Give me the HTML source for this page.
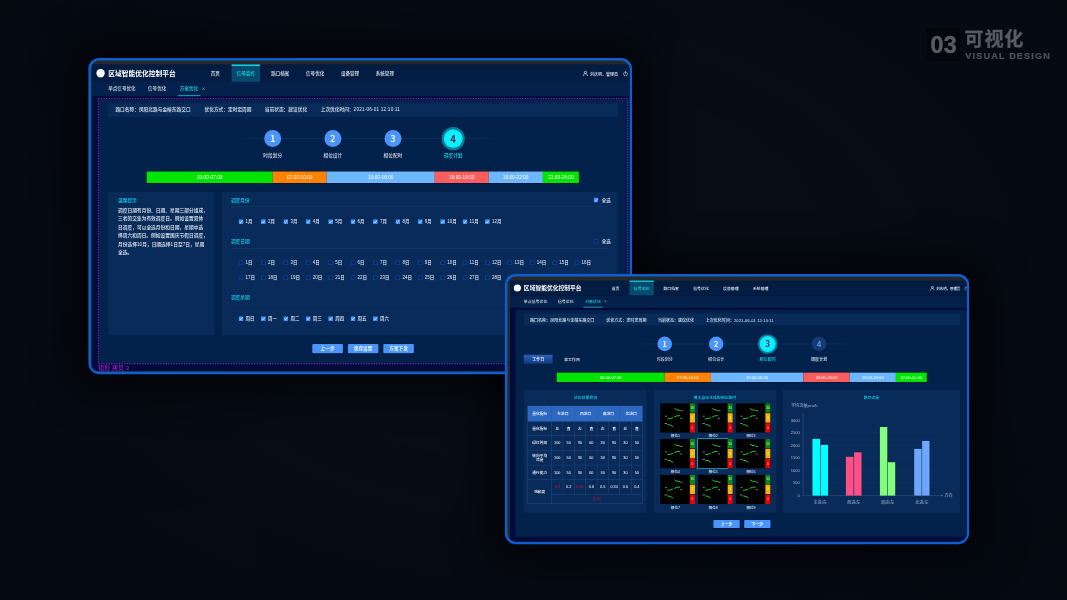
<!DOCTYPE html>
<html lang="zh-CN"><head><meta charset="utf-8"><title>区域智能优化控制平台 - 可视化</title>
<style>
html,body{margin:0;padding:0;}
body{width:1067px;height:600px;overflow:hidden;position:relative;background:#070c16;font-family:"Liberation Sans","Noto Sans CJK SC",sans-serif;}
.root{position:absolute;left:0;top:0;width:10670px;height:6000px;transform:scale(0.1);transform-origin:0 0;}
.bg{position:absolute;left:0;top:0;width:10670px;height:6000px;background:radial-gradient(ellipse 70% 80% at 50% 45%,rgba(8,14,26,.0) 40%,rgba(3,6,10,.4) 100%);}
.frame{position:absolute;box-sizing:border-box;border:25px solid #0a60d2;border-radius:110px;background:#282828;overflow:hidden;}
.f1,.s1{left:884px;top:579px;width:5436px;height:3163px;}
.f2,.s2{left:5049px;top:2739px;width:4642px;height:2703px;}
.sh{position:absolute;border-radius:110px;box-shadow:0 0 380px 160px rgba(0,0,0,.68);}
.c{position:absolute;width:5400px;height:3060px;background:#000a3b;transform-origin:0 0;border-top-left-radius:60px;}
.f1 .c{left:11px;top:46px;}
.f2 .c{left:26px;top:46px;width:4622.4px;height:2619.4px;}
.b{position:absolute;display:block;}
.t{position:absolute;white-space:nowrap;display:block;font-weight:500;}
.badge{position:absolute;left:9266px;top:280px;width:332px;height:330px;background:#03060a;}
</style></head>
<body>
<div class="root">
<div class="bg"></div>
<div class="badge"></div>
<span class="t" style="left:9304px;top:304px;line-height:280px;font-size:234px;font-weight:700;color:#585b63;letter-spacing:3px;-webkit-text-stroke:5px #585b63;">03</span>
<span class="t" style="left:9646px;top:253px;line-height:280px;font-size:192px;font-weight:700;color:#585b63;letter-spacing:6px;-webkit-text-stroke:3px #585b63;">可视化</span>
<span class="t" style="left:9653px;top:478px;line-height:160px;font-size:92px;font-weight:700;color:#4d5058;letter-spacing:11px;-webkit-text-stroke:2.5px #4d5058;">VISUAL DESIGN</span>
<div class="sh s1"></div><div class="sh s2"></div>
<div class="frame f1"><div class="c">
<div class="b" style="left:0px;top:-6px;width:5400px;height:176px;background:#021c42;"></div>
<div class="b" style="left:0px;top:170px;width:5400px;height:142px;background:#03214a;"></div>
<div class="b" style="left:44px;top:40px;width:84px;height:84px;border-radius:50%;background:radial-gradient(circle at 40% 45%,#fff 62%,#f3c98a 78%,#e09a3a 100%);"></div>
<span class="t " style="top:35.5px;line-height:100px;font-size:67.5px;color:#fff;left:162px;font-weight:700;">区域智能优化控制平台</span>
<div class="b" style="left:1396px;top:-5px;width:284px;height:173px;background:#064a6c;border-top:15px solid #0fd6e6;box-sizing:border-box;"></div>
<span class="t " style="top:30px;line-height:100px;font-size:45.5px;color:#dfe6f2;left:1188px;">首页</span>
<span class="t " style="top:30px;line-height:100px;font-size:45.5px;color:#19d6e6;left:1447px;">信号监控</span>
<span class="t " style="top:30px;line-height:100px;font-size:45.5px;color:#dfe6f2;left:1792px;">路口档案</span>
<span class="t " style="top:30px;line-height:100px;font-size:45.5px;color:#dfe6f2;left:2140.5px;">信号优化</span>
<span class="t " style="top:30px;line-height:100px;font-size:45.5px;color:#dfe6f2;left:2489px;">设备管理</span>
<span class="t " style="top:30px;line-height:100px;font-size:45.5px;color:#dfe6f2;left:2837.5px;">系统管理</span>
<svg class="b" style="left:4906px;top:56px;width:56px;height:58px" viewBox="0 0 56 58"><circle cx="28" cy="17" r="12" fill="none" stroke="#e6ecf6" stroke-width="7"/><path d="M6 56 C6 38 16 31 28 31 C40 31 50 38 50 56" fill="none" stroke="#e6ecf6" stroke-width="7"/></svg>
<span class="t " style="top:40.5px;line-height:100px;font-size:40px;color:#e6ecf6;left:4980px;">刘庆明，管理员</span>
<svg class="b" style="left:5307px;top:57px;width:56px;height:56px" viewBox="0 0 56 56"><path d="M17 15 A20 20 0 1 0 39 15" fill="none" stroke="#e6ecf6" stroke-width="6" stroke-linecap="round"/><path d="M28 6 V28" stroke="#e6ecf6" stroke-width="6" stroke-linecap="round"/></svg>
<span class="t " style="top:189px;line-height:100px;font-size:45.8px;color:#d5deec;left:162px;">单点信号优化</span>
<span class="t " style="top:189px;line-height:100px;font-size:45.8px;color:#d5deec;left:560px;">信号优化</span>
<span class="t " style="top:189px;line-height:100px;font-size:45.8px;color:#19d6e6;left:878px;">方案优化</span>
<svg class="b" style="left:1099px;top:221px;width:32px;height:32px" viewBox="0 0 30 30"><path d="M3 3 L27 27 M27 3 L3 27" stroke="#b4c0d6" stroke-width="4.5"/></svg>
<div class="b" style="left:858px;top:300px;width:225px;height:12px;background:#0c94b4;"></div>
<div class="b" style="left:63px;top:343px;width:5302px;height:2643px;background:#03224b;"></div>
<div class="b" style="left:162px;top:382px;width:5098px;height:135px;background:#082b59;"></div>
<span class="t fw" style="top:395.5px;line-height:100px;font-size:47px;color:#dfe6f2;left:234px;">路口名称：凤阳北路与金榕东路交口</span>
<span class="t fw" style="top:395.5px;line-height:100px;font-size:47px;color:#dfe6f2;left:1125px;">优化方式：定时定周期</span>
<span class="t fw" style="top:395.5px;line-height:100px;font-size:47px;color:#dfe6f2;left:1728px;">当前状态：建议优化</span>
<span class="t fw" style="top:395.5px;line-height:100px;font-size:47px;color:#dfe6f2;left:2287px;">上次优化时间：<span style="letter-spacing:1.7px">2021-06-01 12:10:11</span></span>
<div class="b" style="left:1400px;top:733px;width:2700px;height:5px;background:linear-gradient(90deg,rgba(60,100,160,0),rgba(60,100,160,.3) 15%,rgba(60,100,160,.3) 85%,rgba(60,100,160,0));"></div>
<div class="b" style="left:1722px;top:650px;width:170px;height:170px;border-radius:50%;background:#4a94fb;"></div>
<span class="t " style="top:673px;line-height:120px;font-size:96px;color:#fff;left:807px;width:2000px;text-align:center;font-family:'Noto Sans CJK SC',sans-serif;font-weight:500;">1</span>
<span class="t " style="top:857px;line-height:100px;font-size:47px;color:#c9d4e6;left:807px;width:2000px;text-align:center;">时段划分</span>
<div class="b" style="left:2323.5px;top:650px;width:170px;height:170px;border-radius:50%;background:#4a94fb;"></div>
<span class="t " style="top:673px;line-height:120px;font-size:96px;color:#fff;left:1408.5px;width:2000px;text-align:center;font-family:'Noto Sans CJK SC',sans-serif;font-weight:500;">2</span>
<span class="t " style="top:857px;line-height:100px;font-size:47px;color:#c9d4e6;left:1408.5px;width:2000px;text-align:center;">相位设计</span>
<div class="b" style="left:2925px;top:650px;width:170px;height:170px;border-radius:50%;background:#4a94fb;"></div>
<span class="t " style="top:673px;line-height:120px;font-size:96px;color:#fff;left:2010px;width:2000px;text-align:center;font-family:'Noto Sans CJK SC',sans-serif;font-weight:500;">3</span>
<span class="t " style="top:857px;line-height:100px;font-size:47px;color:#c9d4e6;left:2010px;width:2000px;text-align:center;">相位配时</span>
<div class="b" style="left:3495.5px;top:621px;width:232px;height:232px;border-radius:50%;background:#0a7c9c;"></div>
<div class="b" style="left:3517.5px;top:643px;width:188px;height:188px;border-radius:50%;background:radial-gradient(circle,#22f6ff 0%,#08ecfa 60%,#04d4ea 100%);"></div>
<span class="t " style="top:675px;line-height:120px;font-size:96px;color:#0a2c5c;left:2611.5px;width:2000px;text-align:center;font-family:'Noto Sans CJK SC',sans-serif;font-weight:500;font-weight:700;">4</span>
<span class="t " style="top:857px;line-height:100px;font-size:47px;color:#19d6e6;left:2611.5px;width:2000px;text-align:center;">调度计划</span>
<div class="b" style="left:541px;top:1060px;width:4332.4px;height:125px;background:#000a3b;"></div>
<div class="b" style="left:546px;top:1065px;width:1261.2px;height:115px;background:#00e400;"></div>
<span class="t " style="top:1072.5px;line-height:100px;font-size:47.6px;color:#fff;left:176.4px;width:2000px;text-align:center;">00:00-07:00</span>
<div class="b" style="left:1806.7px;top:1065px;width:540.8px;height:115px;background:#ff8200;"></div>
<span class="t " style="top:1072.5px;line-height:100px;font-size:47.6px;color:#fff;left:1076.9px;width:2000px;text-align:center;">07:00-10:00</span>
<div class="b" style="left:2347px;top:1065px;width:1081.1px;height:115px;background:#6db8fd;"></div>
<span class="t " style="top:1072.5px;line-height:100px;font-size:47.6px;color:#fff;left:1887.3px;width:2000px;text-align:center;">10:00-16:00</span>
<div class="b" style="left:3427.6px;top:1065px;width:540.8px;height:115px;background:#fb5c5c;"></div>
<span class="t " style="top:1072.5px;line-height:100px;font-size:47.6px;color:#fff;left:2697.7px;width:2000px;text-align:center;">16:00-19:00</span>
<div class="b" style="left:3967.9px;top:1065px;width:540.8px;height:115px;background:#6db8fd;"></div>
<span class="t " style="top:1072.5px;line-height:100px;font-size:47.6px;color:#fff;left:3238px;width:2000px;text-align:center;">19:00-22:00</span>
<div class="b" style="left:4508.2px;top:1065px;width:360.7px;height:115px;background:#00e400;"></div>
<span class="t " style="top:1072.5px;line-height:100px;font-size:47.6px;color:#fff;left:3688.3px;width:2000px;text-align:center;">22:00-24:00</span>
<div class="b" style="left:162px;top:1270px;width:1060px;height:1434px;background:#082b59;"></div>
<span class="t " style="top:1300px;line-height:100px;font-size:47px;color:#14d2ea;left:260px;">温馨提示:</span>
<span class="t " style="top:1402px;line-height:100px;font-size:47.3px;color:#e6ecf6;left:260px;">调度日期有月份、日期、星期三部分组成，</span>
<span class="t " style="top:1486.6px;line-height:100px;font-size:47.3px;color:#e6ecf6;left:260px;">三者的交集为有效调度日。例如设置双休</span>
<span class="t " style="top:1571.2px;line-height:100px;font-size:47.3px;color:#e6ecf6;left:260px;">日调度，可以全选月份和日期，星期中选</span>
<span class="t " style="top:1655.8px;line-height:100px;font-size:47.3px;color:#e6ecf6;left:260px;">择周六和周日。例如设置国庆节假日调度，</span>
<span class="t " style="top:1740.4px;line-height:100px;font-size:47.3px;color:#e6ecf6;left:260px;">月份选择10月，日期选择1日至7日，星期</span>
<span class="t " style="top:1825px;line-height:100px;font-size:47.3px;color:#e6ecf6;left:260px;">全选。</span>
<div class="b" style="left:1297px;top:1270px;width:3960px;height:1434px;background:#082b59;"></div>
<span class="t " style="top:1300px;line-height:100px;font-size:47px;color:#14d2ea;left:1389px;">调度月份</span>
<div class="b" style="left:1389px;top:1411px;width:3776px;height:4px;background:rgba(60,110,180,.35);"></div>
<svg class="b" style="left:5016px;top:1326px;width:48px;height:48px" viewBox="0 0 47 47"><rect x="0" y="0" width="47" height="47" rx="5" fill="#3d8efc"/><path d="M10 24 L20 34 L38 12" fill="none" stroke="#fff" stroke-width="7"/></svg>
<span class="t " style="top:1300px;line-height:100px;font-size:45px;color:#e6ecf6;left:5097px;">全选</span>
<svg class="b" style="left:1466px;top:1543px;width:48px;height:48px" viewBox="0 0 47 47"><rect x="0" y="0" width="47" height="47" rx="5" fill="#3d8efc"/><path d="M10 24 L20 34 L38 12" fill="none" stroke="#fff" stroke-width="7"/></svg>
<span class="t " style="top:1519px;line-height:100px;font-size:45px;color:#e6ecf6;left:1536px;">1月</span>
<svg class="b" style="left:1690px;top:1543px;width:48px;height:48px" viewBox="0 0 47 47"><rect x="0" y="0" width="47" height="47" rx="5" fill="#3d8efc"/><path d="M10 24 L20 34 L38 12" fill="none" stroke="#fff" stroke-width="7"/></svg>
<span class="t " style="top:1519px;line-height:100px;font-size:45px;color:#e6ecf6;left:1760px;">2月</span>
<svg class="b" style="left:1914px;top:1543px;width:48px;height:48px" viewBox="0 0 47 47"><rect x="0" y="0" width="47" height="47" rx="5" fill="#3d8efc"/><path d="M10 24 L20 34 L38 12" fill="none" stroke="#fff" stroke-width="7"/></svg>
<span class="t " style="top:1519px;line-height:100px;font-size:45px;color:#e6ecf6;left:1984px;">3月</span>
<svg class="b" style="left:2138px;top:1543px;width:48px;height:48px" viewBox="0 0 47 47"><rect x="0" y="0" width="47" height="47" rx="5" fill="#3d8efc"/><path d="M10 24 L20 34 L38 12" fill="none" stroke="#fff" stroke-width="7"/></svg>
<span class="t " style="top:1519px;line-height:100px;font-size:45px;color:#e6ecf6;left:2208px;">4月</span>
<svg class="b" style="left:2362px;top:1543px;width:48px;height:48px" viewBox="0 0 47 47"><rect x="0" y="0" width="47" height="47" rx="5" fill="#3d8efc"/><path d="M10 24 L20 34 L38 12" fill="none" stroke="#fff" stroke-width="7"/></svg>
<span class="t " style="top:1519px;line-height:100px;font-size:45px;color:#e6ecf6;left:2432px;">5月</span>
<svg class="b" style="left:2586px;top:1543px;width:48px;height:48px" viewBox="0 0 47 47"><rect x="0" y="0" width="47" height="47" rx="5" fill="#3d8efc"/><path d="M10 24 L20 34 L38 12" fill="none" stroke="#fff" stroke-width="7"/></svg>
<span class="t " style="top:1519px;line-height:100px;font-size:45px;color:#e6ecf6;left:2656px;">6月</span>
<svg class="b" style="left:2810px;top:1543px;width:48px;height:48px" viewBox="0 0 47 47"><rect x="0" y="0" width="47" height="47" rx="5" fill="#3d8efc"/><path d="M10 24 L20 34 L38 12" fill="none" stroke="#fff" stroke-width="7"/></svg>
<span class="t " style="top:1519px;line-height:100px;font-size:45px;color:#e6ecf6;left:2880px;">7月</span>
<svg class="b" style="left:3034px;top:1543px;width:48px;height:48px" viewBox="0 0 47 47"><rect x="0" y="0" width="47" height="47" rx="5" fill="#3d8efc"/><path d="M10 24 L20 34 L38 12" fill="none" stroke="#fff" stroke-width="7"/></svg>
<span class="t " style="top:1519px;line-height:100px;font-size:45px;color:#e6ecf6;left:3104px;">8月</span>
<svg class="b" style="left:3258px;top:1543px;width:48px;height:48px" viewBox="0 0 47 47"><rect x="0" y="0" width="47" height="47" rx="5" fill="#3d8efc"/><path d="M10 24 L20 34 L38 12" fill="none" stroke="#fff" stroke-width="7"/></svg>
<span class="t " style="top:1519px;line-height:100px;font-size:45px;color:#e6ecf6;left:3328px;">9月</span>
<svg class="b" style="left:3482px;top:1543px;width:48px;height:48px" viewBox="0 0 47 47"><rect x="0" y="0" width="47" height="47" rx="5" fill="#3d8efc"/><path d="M10 24 L20 34 L38 12" fill="none" stroke="#fff" stroke-width="7"/></svg>
<span class="t " style="top:1519px;line-height:100px;font-size:45px;color:#e6ecf6;left:3552px;">10月</span>
<svg class="b" style="left:3706px;top:1543px;width:48px;height:48px" viewBox="0 0 47 47"><rect x="0" y="0" width="47" height="47" rx="5" fill="#3d8efc"/><path d="M10 24 L20 34 L38 12" fill="none" stroke="#fff" stroke-width="7"/></svg>
<span class="t " style="top:1519px;line-height:100px;font-size:45px;color:#e6ecf6;left:3776px;">11月</span>
<svg class="b" style="left:3930px;top:1543px;width:48px;height:48px" viewBox="0 0 47 47"><rect x="0" y="0" width="47" height="47" rx="5" fill="#3d8efc"/><path d="M10 24 L20 34 L38 12" fill="none" stroke="#fff" stroke-width="7"/></svg>
<span class="t " style="top:1519px;line-height:100px;font-size:45px;color:#e6ecf6;left:4000px;">12月</span>
<span class="t " style="top:1714px;line-height:100px;font-size:47px;color:#14d2ea;left:1389px;">调度日期</span>
<div class="b" style="left:1389px;top:1831px;width:3776px;height:4px;background:rgba(60,110,180,.35);"></div>
<svg class="b" style="left:5016px;top:1738px;width:48px;height:48px" viewBox="0 0 47 47"><rect x="2.5" y="2.5" width="42" height="42" rx="4" fill="#052468" stroke="#3466b4" stroke-width="5"/></svg>
<span class="t " style="top:1712px;line-height:100px;font-size:45px;color:#e6ecf6;left:5097px;">全选</span>
<svg class="b" style="left:1466px;top:1954px;width:48px;height:48px" viewBox="0 0 47 47"><rect x="2.5" y="2.5" width="42" height="42" rx="4" fill="#052468" stroke="#3466b4" stroke-width="5"/></svg>
<span class="t " style="top:1923px;line-height:100px;font-size:45px;color:#e6ecf6;left:1536px;">1日</span>
<svg class="b" style="left:1690px;top:1954px;width:48px;height:48px" viewBox="0 0 47 47"><rect x="2.5" y="2.5" width="42" height="42" rx="4" fill="#052468" stroke="#3466b4" stroke-width="5"/></svg>
<span class="t " style="top:1923px;line-height:100px;font-size:45px;color:#e6ecf6;left:1760px;">2日</span>
<svg class="b" style="left:1914px;top:1954px;width:48px;height:48px" viewBox="0 0 47 47"><rect x="2.5" y="2.5" width="42" height="42" rx="4" fill="#052468" stroke="#3466b4" stroke-width="5"/></svg>
<span class="t " style="top:1923px;line-height:100px;font-size:45px;color:#e6ecf6;left:1984px;">3日</span>
<svg class="b" style="left:2138px;top:1954px;width:48px;height:48px" viewBox="0 0 47 47"><rect x="2.5" y="2.5" width="42" height="42" rx="4" fill="#052468" stroke="#3466b4" stroke-width="5"/></svg>
<span class="t " style="top:1923px;line-height:100px;font-size:45px;color:#e6ecf6;left:2208px;">4日</span>
<svg class="b" style="left:2362px;top:1954px;width:48px;height:48px" viewBox="0 0 47 47"><rect x="2.5" y="2.5" width="42" height="42" rx="4" fill="#052468" stroke="#3466b4" stroke-width="5"/></svg>
<span class="t " style="top:1923px;line-height:100px;font-size:45px;color:#e6ecf6;left:2432px;">5日</span>
<svg class="b" style="left:2586px;top:1954px;width:48px;height:48px" viewBox="0 0 47 47"><rect x="2.5" y="2.5" width="42" height="42" rx="4" fill="#052468" stroke="#3466b4" stroke-width="5"/></svg>
<span class="t " style="top:1923px;line-height:100px;font-size:45px;color:#e6ecf6;left:2656px;">6日</span>
<svg class="b" style="left:2810px;top:1954px;width:48px;height:48px" viewBox="0 0 47 47"><rect x="2.5" y="2.5" width="42" height="42" rx="4" fill="#052468" stroke="#3466b4" stroke-width="5"/></svg>
<span class="t " style="top:1923px;line-height:100px;font-size:45px;color:#e6ecf6;left:2880px;">7日</span>
<svg class="b" style="left:3034px;top:1954px;width:48px;height:48px" viewBox="0 0 47 47"><rect x="2.5" y="2.5" width="42" height="42" rx="4" fill="#052468" stroke="#3466b4" stroke-width="5"/></svg>
<span class="t " style="top:1923px;line-height:100px;font-size:45px;color:#e6ecf6;left:3104px;">8日</span>
<svg class="b" style="left:3258px;top:1954px;width:48px;height:48px" viewBox="0 0 47 47"><rect x="2.5" y="2.5" width="42" height="42" rx="4" fill="#052468" stroke="#3466b4" stroke-width="5"/></svg>
<span class="t " style="top:1923px;line-height:100px;font-size:45px;color:#e6ecf6;left:3328px;">9日</span>
<svg class="b" style="left:3482px;top:1954px;width:48px;height:48px" viewBox="0 0 47 47"><rect x="2.5" y="2.5" width="42" height="42" rx="4" fill="#052468" stroke="#3466b4" stroke-width="5"/></svg>
<span class="t " style="top:1923px;line-height:100px;font-size:45px;color:#e6ecf6;left:3552px;">10日</span>
<svg class="b" style="left:3706px;top:1954px;width:48px;height:48px" viewBox="0 0 47 47"><rect x="2.5" y="2.5" width="42" height="42" rx="4" fill="#052468" stroke="#3466b4" stroke-width="5"/></svg>
<span class="t " style="top:1923px;line-height:100px;font-size:45px;color:#e6ecf6;left:3776px;">11日</span>
<svg class="b" style="left:3930px;top:1954px;width:48px;height:48px" viewBox="0 0 47 47"><rect x="2.5" y="2.5" width="42" height="42" rx="4" fill="#052468" stroke="#3466b4" stroke-width="5"/></svg>
<span class="t " style="top:1923px;line-height:100px;font-size:45px;color:#e6ecf6;left:4000px;">12日</span>
<svg class="b" style="left:4154px;top:1954px;width:48px;height:48px" viewBox="0 0 47 47"><rect x="2.5" y="2.5" width="42" height="42" rx="4" fill="#052468" stroke="#3466b4" stroke-width="5"/></svg>
<span class="t " style="top:1923px;line-height:100px;font-size:45px;color:#e6ecf6;left:4224px;">13日</span>
<svg class="b" style="left:4378px;top:1954px;width:48px;height:48px" viewBox="0 0 47 47"><rect x="2.5" y="2.5" width="42" height="42" rx="4" fill="#052468" stroke="#3466b4" stroke-width="5"/></svg>
<span class="t " style="top:1923px;line-height:100px;font-size:45px;color:#e6ecf6;left:4448px;">14日</span>
<svg class="b" style="left:4602px;top:1954px;width:48px;height:48px" viewBox="0 0 47 47"><rect x="2.5" y="2.5" width="42" height="42" rx="4" fill="#052468" stroke="#3466b4" stroke-width="5"/></svg>
<span class="t " style="top:1923px;line-height:100px;font-size:45px;color:#e6ecf6;left:4672px;">15日</span>
<svg class="b" style="left:4826px;top:1954px;width:48px;height:48px" viewBox="0 0 47 47"><rect x="2.5" y="2.5" width="42" height="42" rx="4" fill="#052468" stroke="#3466b4" stroke-width="5"/></svg>
<span class="t " style="top:1923px;line-height:100px;font-size:45px;color:#e6ecf6;left:4896px;">16日</span>
<svg class="b" style="left:1466px;top:2104px;width:48px;height:48px" viewBox="0 0 47 47"><rect x="2.5" y="2.5" width="42" height="42" rx="4" fill="#052468" stroke="#3466b4" stroke-width="5"/></svg>
<span class="t " style="top:2073px;line-height:100px;font-size:45px;color:#e6ecf6;left:1536px;">17日</span>
<svg class="b" style="left:1690px;top:2104px;width:48px;height:48px" viewBox="0 0 47 47"><rect x="2.5" y="2.5" width="42" height="42" rx="4" fill="#052468" stroke="#3466b4" stroke-width="5"/></svg>
<span class="t " style="top:2073px;line-height:100px;font-size:45px;color:#e6ecf6;left:1760px;">18日</span>
<svg class="b" style="left:1914px;top:2104px;width:48px;height:48px" viewBox="0 0 47 47"><rect x="2.5" y="2.5" width="42" height="42" rx="4" fill="#052468" stroke="#3466b4" stroke-width="5"/></svg>
<span class="t " style="top:2073px;line-height:100px;font-size:45px;color:#e6ecf6;left:1984px;">19日</span>
<svg class="b" style="left:2138px;top:2104px;width:48px;height:48px" viewBox="0 0 47 47"><rect x="2.5" y="2.5" width="42" height="42" rx="4" fill="#052468" stroke="#3466b4" stroke-width="5"/></svg>
<span class="t " style="top:2073px;line-height:100px;font-size:45px;color:#e6ecf6;left:2208px;">20日</span>
<svg class="b" style="left:2362px;top:2104px;width:48px;height:48px" viewBox="0 0 47 47"><rect x="2.5" y="2.5" width="42" height="42" rx="4" fill="#052468" stroke="#3466b4" stroke-width="5"/></svg>
<span class="t " style="top:2073px;line-height:100px;font-size:45px;color:#e6ecf6;left:2432px;">21日</span>
<svg class="b" style="left:2586px;top:2104px;width:48px;height:48px" viewBox="0 0 47 47"><rect x="2.5" y="2.5" width="42" height="42" rx="4" fill="#052468" stroke="#3466b4" stroke-width="5"/></svg>
<span class="t " style="top:2073px;line-height:100px;font-size:45px;color:#e6ecf6;left:2656px;">22日</span>
<svg class="b" style="left:2810px;top:2104px;width:48px;height:48px" viewBox="0 0 47 47"><rect x="2.5" y="2.5" width="42" height="42" rx="4" fill="#052468" stroke="#3466b4" stroke-width="5"/></svg>
<span class="t " style="top:2073px;line-height:100px;font-size:45px;color:#e6ecf6;left:2880px;">23日</span>
<svg class="b" style="left:3034px;top:2104px;width:48px;height:48px" viewBox="0 0 47 47"><rect x="2.5" y="2.5" width="42" height="42" rx="4" fill="#052468" stroke="#3466b4" stroke-width="5"/></svg>
<span class="t " style="top:2073px;line-height:100px;font-size:45px;color:#e6ecf6;left:3104px;">24日</span>
<svg class="b" style="left:3258px;top:2104px;width:48px;height:48px" viewBox="0 0 47 47"><rect x="2.5" y="2.5" width="42" height="42" rx="4" fill="#052468" stroke="#3466b4" stroke-width="5"/></svg>
<span class="t " style="top:2073px;line-height:100px;font-size:45px;color:#e6ecf6;left:3328px;">25日</span>
<svg class="b" style="left:3482px;top:2104px;width:48px;height:48px" viewBox="0 0 47 47"><rect x="2.5" y="2.5" width="42" height="42" rx="4" fill="#052468" stroke="#3466b4" stroke-width="5"/></svg>
<span class="t " style="top:2073px;line-height:100px;font-size:45px;color:#e6ecf6;left:3552px;">26日</span>
<svg class="b" style="left:3706px;top:2104px;width:48px;height:48px" viewBox="0 0 47 47"><rect x="2.5" y="2.5" width="42" height="42" rx="4" fill="#052468" stroke="#3466b4" stroke-width="5"/></svg>
<span class="t " style="top:2073px;line-height:100px;font-size:45px;color:#e6ecf6;left:3776px;">27日</span>
<svg class="b" style="left:3930px;top:2104px;width:48px;height:48px" viewBox="0 0 47 47"><rect x="2.5" y="2.5" width="42" height="42" rx="4" fill="#052468" stroke="#3466b4" stroke-width="5"/></svg>
<span class="t " style="top:2073px;line-height:100px;font-size:45px;color:#e6ecf6;left:4000px;">28日</span>
<svg class="b" style="left:4154px;top:2104px;width:48px;height:48px" viewBox="0 0 47 47"><rect x="2.5" y="2.5" width="42" height="42" rx="4" fill="#052468" stroke="#3466b4" stroke-width="5"/></svg>
<span class="t " style="top:2073px;line-height:100px;font-size:45px;color:#e6ecf6;left:4224px;">29日</span>
<svg class="b" style="left:4378px;top:2104px;width:48px;height:48px" viewBox="0 0 47 47"><rect x="2.5" y="2.5" width="42" height="42" rx="4" fill="#052468" stroke="#3466b4" stroke-width="5"/></svg>
<span class="t " style="top:2073px;line-height:100px;font-size:45px;color:#e6ecf6;left:4448px;">30日</span>
<svg class="b" style="left:4602px;top:2104px;width:48px;height:48px" viewBox="0 0 47 47"><rect x="2.5" y="2.5" width="42" height="42" rx="4" fill="#052468" stroke="#3466b4" stroke-width="5"/></svg>
<span class="t " style="top:2073px;line-height:100px;font-size:45px;color:#e6ecf6;left:4672px;">31日</span>
<span class="t " style="top:2271px;line-height:100px;font-size:47px;color:#14d2ea;left:1389px;">调度星期</span>
<div class="b" style="left:1389px;top:2389px;width:3776px;height:4px;background:rgba(60,110,180,.35);"></div>
<svg class="b" style="left:1466px;top:2513px;width:48px;height:48px" viewBox="0 0 47 47"><rect x="0" y="0" width="47" height="47" rx="5" fill="#3d8efc"/><path d="M10 24 L20 34 L38 12" fill="none" stroke="#fff" stroke-width="7"/></svg>
<span class="t " style="top:2489px;line-height:100px;font-size:45px;color:#e6ecf6;left:1536px;">周日</span>
<svg class="b" style="left:1690px;top:2513px;width:48px;height:48px" viewBox="0 0 47 47"><rect x="0" y="0" width="47" height="47" rx="5" fill="#3d8efc"/><path d="M10 24 L20 34 L38 12" fill="none" stroke="#fff" stroke-width="7"/></svg>
<span class="t " style="top:2489px;line-height:100px;font-size:45px;color:#e6ecf6;left:1760px;">周一</span>
<svg class="b" style="left:1914px;top:2513px;width:48px;height:48px" viewBox="0 0 47 47"><rect x="0" y="0" width="47" height="47" rx="5" fill="#3d8efc"/><path d="M10 24 L20 34 L38 12" fill="none" stroke="#fff" stroke-width="7"/></svg>
<span class="t " style="top:2489px;line-height:100px;font-size:45px;color:#e6ecf6;left:1984px;">周二</span>
<svg class="b" style="left:2138px;top:2513px;width:48px;height:48px" viewBox="0 0 47 47"><rect x="0" y="0" width="47" height="47" rx="5" fill="#3d8efc"/><path d="M10 24 L20 34 L38 12" fill="none" stroke="#fff" stroke-width="7"/></svg>
<span class="t " style="top:2489px;line-height:100px;font-size:45px;color:#e6ecf6;left:2208px;">周三</span>
<svg class="b" style="left:2362px;top:2513px;width:48px;height:48px" viewBox="0 0 47 47"><rect x="0" y="0" width="47" height="47" rx="5" fill="#3d8efc"/><path d="M10 24 L20 34 L38 12" fill="none" stroke="#fff" stroke-width="7"/></svg>
<span class="t " style="top:2489px;line-height:100px;font-size:45px;color:#e6ecf6;left:2432px;">周四</span>
<svg class="b" style="left:2586px;top:2513px;width:48px;height:48px" viewBox="0 0 47 47"><rect x="0" y="0" width="47" height="47" rx="5" fill="#3d8efc"/><path d="M10 24 L20 34 L38 12" fill="none" stroke="#fff" stroke-width="7"/></svg>
<span class="t " style="top:2489px;line-height:100px;font-size:45px;color:#e6ecf6;left:2656px;">周五</span>
<svg class="b" style="left:2810px;top:2513px;width:48px;height:48px" viewBox="0 0 47 47"><rect x="0" y="0" width="47" height="47" rx="5" fill="#3d8efc"/><path d="M10 24 L20 34 L38 12" fill="none" stroke="#fff" stroke-width="7"/></svg>
<span class="t " style="top:2489px;line-height:100px;font-size:45px;color:#e6ecf6;left:2880px;">周六</span>
<div class="b" style="left:2203px;top:2791px;width:306px;height:92px;background:#4a94fb;border-radius:10px;box-shadow:0 3px 12px rgba(0,8,40,.7);"></div>
<span class="t " style="top:2787px;line-height:100px;font-size:47px;color:#fff;left:1356px;width:2000px;text-align:center;">上一步</span>
<div class="b" style="left:2558px;top:2791px;width:306px;height:92px;background:#4a94fb;border-radius:10px;box-shadow:0 3px 12px rgba(0,8,40,.7);"></div>
<span class="t " style="top:2787px;line-height:100px;font-size:47px;color:#fff;left:1711px;width:2000px;text-align:center;">保存设置</span>
<div class="b" style="left:2913px;top:2791px;width:306px;height:92px;background:#4a94fb;border-radius:10px;box-shadow:0 3px 12px rgba(0,8,40,.7);"></div>
<span class="t " style="top:2787px;line-height:100px;font-size:47px;color:#fff;left:2066px;width:2000px;text-align:center;">方案下发</span>
<svg class="b" style="left:0px;top:0px;width:5400px;height:3060px" viewBox="0 0 540 306"><rect x="6.3" y="33.6" width="529.6" height="265.2" fill="none" stroke="#a01cc8" stroke-width="0.95" stroke-dasharray="1.3 1.3"/></svg>
<span class="t " style="top:2979px;line-height:100px;font-size:60px;color:#a41ccc;left:63px;">矩形 拷贝 3</span>
</div></div>
<div class="frame f2"><div class="c">
<div class="b" style="left:0px;top:-5.14px;width:4622.4px;height:150.66px;background:#021c42;"></div>
<div class="b" style="left:0px;top:145.52px;width:4622.4px;height:121.55px;background:#03214a;"></div>
<div class="b" style="left:37.66px;top:34.24px;width:71.9px;height:71.9px;border-radius:50%;background:radial-gradient(circle at 40% 45%,#fff 62%,#f3c98a 78%,#e09a3a 100%);"></div>
<span class="t " style="top:29.96px;line-height:85.6px;font-size:57.78px;color:#fff;left:138.67px;font-weight:700;">区域智能优化控制平台</span>
<div class="b" style="left:1194.98px;top:-4.28px;width:243.1px;height:148.09px;background:#064a6c;border-top:12.84px solid #0fd6e6;box-sizing:border-box;"></div>
<span class="t " style="top:38.09px;line-height:85.6px;font-size:38.95px;color:#dfe6f2;left:1016.93px;">首页</span>
<span class="t " style="top:38.09px;line-height:85.6px;font-size:38.95px;color:#19d6e6;left:1238.63px;">信号监控</span>
<span class="t " style="top:38.09px;line-height:85.6px;font-size:38.95px;color:#dfe6f2;left:1533.95px;">路口档案</span>
<span class="t " style="top:38.09px;line-height:85.6px;font-size:38.95px;color:#dfe6f2;left:1832.27px;">信号优化</span>
<span class="t " style="top:38.09px;line-height:85.6px;font-size:38.95px;color:#dfe6f2;left:2130.58px;">设备管理</span>
<span class="t " style="top:38.09px;line-height:85.6px;font-size:38.95px;color:#dfe6f2;left:2428.9px;">系统管理</span>
<svg class="b" style="left:4199.54px;top:47.94px;width:47.94px;height:49.65px" viewBox="0 0 56 58"><circle cx="28" cy="17" r="12" fill="none" stroke="#e6ecf6" stroke-width="7"/><path d="M6 56 C6 38 16 31 28 31 C40 31 50 38 50 56" fill="none" stroke="#e6ecf6" stroke-width="7"/></svg>
<span class="t " style="top:37.66px;line-height:85.6px;font-size:34.24px;color:#e6ecf6;left:4262.88px;">刘庆明，管理员</span>
<svg class="b" style="left:4542.79px;top:48.79px;width:47.94px;height:47.94px" viewBox="0 0 56 56"><path d="M17 15 A20 20 0 1 0 39 15" fill="none" stroke="#e6ecf6" stroke-width="6" stroke-linecap="round"/><path d="M28 6 V28" stroke="#e6ecf6" stroke-width="6" stroke-linecap="round"/></svg>
<span class="t " style="top:166.06px;line-height:85.6px;font-size:39.2px;color:#d5deec;left:138.67px;">单点信号优化</span>
<span class="t " style="top:166.06px;line-height:85.6px;font-size:39.2px;color:#d5deec;left:479.36px;">信号优化</span>
<span class="t " style="top:166.06px;line-height:85.6px;font-size:39.2px;color:#19d6e6;left:751.57px;">方案优化</span>
<svg class="b" style="left:940.74px;top:189.18px;width:27.39px;height:27.39px" viewBox="0 0 30 30"><path d="M3 3 L27 27 M27 3 L3 27" stroke="#b4c0d6" stroke-width="4.5"/></svg>
<div class="b" style="left:734.45px;top:256.8px;width:192.6px;height:10.27px;background:#0c94b4;"></div>
<div class="b" style="left:53.93px;top:290.18px;width:4538.51px;height:2265.83px;background:#03224b;"></div>
<div class="b" style="left:138.67px;top:326.99px;width:4363.89px;height:115.56px;background:#082b59;"></div>
<span class="t fw" style="top:351.82px;line-height:85.6px;font-size:40.23px;color:#dfe6f2;left:200.3px;">路口名称：凤阳北路与金榕东路交口</span>
<span class="t fw" style="top:351.82px;line-height:85.6px;font-size:40.23px;color:#dfe6f2;left:963px;">优化方式：定时定周期</span>
<span class="t fw" style="top:351.82px;line-height:85.6px;font-size:40.23px;color:#dfe6f2;left:1479.17px;">当前状态：建议优化</span>
<span class="t fw" style="top:351.82px;line-height:85.6px;font-size:40.23px;color:#dfe6f2;left:1957.67px;">上次优化时间：<span style="letter-spacing:1.46px">2021-06-01 12:10:11</span></span>
<div class="b" style="left:1198.4px;top:627.45px;width:2311.2px;height:4.28px;background:linear-gradient(90deg,rgba(60,100,160,0),rgba(60,100,160,.3) 15%,rgba(60,100,160,.3) 85%,rgba(60,100,160,0));"></div>
<div class="b" style="left:1474.03px;top:556.4px;width:145.52px;height:145.52px;border-radius:50%;background:#4a94fb;"></div>
<span class="t " style="top:576.09px;line-height:102.72px;font-size:82.18px;color:#fff;left:690.79px;width:1712px;text-align:center;font-family:'Noto Sans CJK SC',sans-serif;font-weight:500;">1</span>
<span class="t " style="top:741.3px;line-height:85.6px;font-size:40.23px;color:#c9d4e6;left:690.79px;width:1712px;text-align:center;">时段划分</span>
<div class="b" style="left:1988.92px;top:556.4px;width:145.52px;height:145.52px;border-radius:50%;background:#4a94fb;"></div>
<span class="t " style="top:576.09px;line-height:102.72px;font-size:82.18px;color:#fff;left:1205.68px;width:1712px;text-align:center;font-family:'Noto Sans CJK SC',sans-serif;font-weight:500;">2</span>
<span class="t " style="top:741.3px;line-height:85.6px;font-size:40.23px;color:#c9d4e6;left:1205.68px;width:1712px;text-align:center;">相位设计</span>
<div class="b" style="left:2477.26px;top:531.58px;width:198.59px;height:198.59px;border-radius:50%;background:#0a7c9c;"></div>
<div class="b" style="left:2496.1px;top:550.41px;width:160.93px;height:160.93px;border-radius:50%;background:radial-gradient(circle,#22f6ff 0%,#08ecfa 60%,#04d4ea 100%);"></div>
<span class="t " style="top:577.8px;line-height:102.72px;font-size:82.18px;color:#0a2c5c;left:1720.56px;width:1712px;text-align:center;font-family:'Noto Sans CJK SC',sans-serif;font-weight:500;font-weight:700;">3</span>
<span class="t " style="top:741.3px;line-height:85.6px;font-size:40.23px;color:#19d6e6;left:1720.56px;width:1712px;text-align:center;">相位配时</span>
<div class="b" style="left:3018.68px;top:556.4px;width:145.52px;height:145.52px;border-radius:50%;background:#173a72;"></div>
<span class="t " style="top:576.09px;line-height:102.72px;font-size:82.18px;color:#5aa0ff;left:2235.44px;width:1712px;text-align:center;font-family:'Noto Sans CJK SC',sans-serif;font-weight:500;">4</span>
<span class="t " style="top:741.3px;line-height:85.6px;font-size:40.23px;color:#dfe6f2;left:2235.44px;width:1712px;text-align:center;">调度计划</span>
<div class="b" style="left:463.1px;top:911.64px;width:3708.53px;height:102.72px;background:#000a3b;"></div>
<div class="b" style="left:467.38px;top:915.92px;width:1079.59px;height:94.16px;background:#00e400;"></div>
<span class="t " style="top:920.2px;line-height:85.6px;font-size:40.75px;color:#fff;left:151px;width:1712px;text-align:center;">00:00-07:30</span>
<div class="b" style="left:1546.54px;top:915.92px;width:462.92px;height:94.16px;background:#ff8200;"></div>
<span class="t " style="top:920.2px;line-height:85.6px;font-size:40.75px;color:#fff;left:921.83px;width:1712px;text-align:center;">07:30-10:00</span>
<div class="b" style="left:2009.03px;top:915.92px;width:925.42px;height:94.16px;background:#6db8fd;"></div>
<span class="t " style="top:920.2px;line-height:85.6px;font-size:40.75px;color:#fff;left:1615.53px;width:1712px;text-align:center;">10:00-16:00</span>
<div class="b" style="left:2934.03px;top:915.92px;width:462.92px;height:94.16px;background:#fb5c5c;"></div>
<span class="t " style="top:920.2px;line-height:85.6px;font-size:40.75px;color:#fff;left:2309.23px;width:1712px;text-align:center;">16:00-19:00</span>
<div class="b" style="left:3396.52px;top:915.92px;width:462.92px;height:94.16px;background:#6db8fd;"></div>
<span class="t " style="top:920.2px;line-height:85.6px;font-size:40.75px;color:#fff;left:2771.73px;width:1712px;text-align:center;">19:00-22:00</span>
<div class="b" style="left:3859.02px;top:915.92px;width:308.76px;height:94.16px;background:#00e400;"></div>
<span class="t " style="top:920.2px;line-height:85.6px;font-size:40.75px;color:#fff;left:3157.18px;width:1712px;text-align:center;">22:00-24:00</span>
<div class="b" style="left:137.82px;top:737.87px;width:288.47px;height:89.02px;background:linear-gradient(180deg,#2a63b8,#123a80);border-radius:4.28px;"></div>
<span class="t " style="top:738.73px;line-height:85.6px;font-size:40.23px;color:#fff;left:-573.52px;width:1712px;text-align:center;">工作日</span>
<span class="t " style="top:739.58px;line-height:85.6px;font-size:39.38px;color:#e6ecf6;left:541.85px;">非工作日</span>
<div class="b" style="left:141.24px;top:1087.12px;width:1226.65px;height:1229.22px;background:#082b59;"></div>
<div class="b" style="left:1436.37px;top:1087.12px;width:1225.79px;height:1229.22px;background:#082b59;"></div>
<div class="b" style="left:2729.78px;top:1087.12px;width:1770.21px;height:1229.22px;background:#082b59;"></div>
<span class="t " style="top:1121.36px;line-height:85.6px;font-size:38.52px;color:#14d2ea;left:-101.01px;width:1712px;text-align:center;">优化效果预测</span>
<span class="t " style="top:1121.36px;line-height:85.6px;font-size:38.52px;color:#14d2ea;left:1193.26px;width:1712px;text-align:center;">算法自动生成的相位配时</span>
<span class="t " style="top:1121.36px;line-height:85.6px;font-size:38.52px;color:#14d2ea;left:2758.89px;width:1712px;text-align:center;">路口流量</span>
<div class="b" style="left:178.05px;top:1249.76px;width:1147.04px;height:154.08px;background:#2d68c0;"></div>
<div class="b" style="left:178.05px;top:1248.05px;width:1147.04px;height:3.42px;background:#2c5590;"></div>
<div class="b" style="left:178.05px;top:1402.13px;width:1147.04px;height:3.42px;background:#2c5590;"></div>
<div class="b" style="left:178.05px;top:1545.94px;width:1147.04px;height:3.42px;background:#2c5590;"></div>
<div class="b" style="left:178.05px;top:1694.02px;width:1147.04px;height:3.42px;background:#2c5590;"></div>
<div class="b" style="left:178.05px;top:1838.69px;width:1147.04px;height:3.42px;background:#2c5590;"></div>
<div class="b" style="left:178.05px;top:1983.35px;width:1147.04px;height:3.42px;background:#2c5590;"></div>
<div class="b" style="left:416.02px;top:2130.58px;width:909.07px;height:3.42px;background:#2c5590;"></div>
<div class="b" style="left:178.05px;top:2226.46px;width:1147.04px;height:3.42px;background:#2c5590;"></div>
<div class="b" style="left:176.34px;top:1249.76px;width:3.42px;height:978.41px;background:#2c5590;"></div>
<div class="b" style="left:1323.38px;top:1249.76px;width:3.42px;height:978.41px;background:#2c5590;"></div>
<div class="b" style="left:414.3px;top:1249.76px;width:3.42px;height:978.41px;background:#2c5590;"></div>
<div class="b" style="left:527.9px;top:1403.84px;width:3.42px;height:728.46px;background:#2c5590;"></div>
<div class="b" style="left:641.57px;top:1249.76px;width:3.42px;height:882.54px;background:#2c5590;"></div>
<div class="b" style="left:755.25px;top:1403.84px;width:3.42px;height:728.46px;background:#2c5590;"></div>
<div class="b" style="left:868.84px;top:1249.76px;width:3.42px;height:882.54px;background:#2c5590;"></div>
<div class="b" style="left:982.52px;top:1403.84px;width:3.42px;height:728.46px;background:#2c5590;"></div>
<div class="b" style="left:1096.11px;top:1249.76px;width:3.42px;height:882.54px;background:#2c5590;"></div>
<div class="b" style="left:1209.78px;top:1403.84px;width:3.42px;height:728.46px;background:#2c5590;"></div>
<span class="t " style="top:1284px;line-height:85.6px;font-size:37.66px;color:#fff;left:-558.97px;width:1712px;text-align:center;">量化指标</span>
<span class="t " style="top:1284px;line-height:85.6px;font-size:37.66px;color:#fff;left:-326.31px;width:1712px;text-align:center;">东进口</span>
<span class="t " style="top:1284px;line-height:85.6px;font-size:37.66px;color:#fff;left:-99.04px;width:1712px;text-align:center;">西进口</span>
<span class="t " style="top:1284px;line-height:85.6px;font-size:37.66px;color:#fff;left:128.23px;width:1712px;text-align:center;">南进口</span>
<span class="t " style="top:1284px;line-height:85.6px;font-size:37.66px;color:#fff;left:355.5px;width:1712px;text-align:center;">北进口</span>
<span class="t " style="top:1432.94px;line-height:85.6px;font-size:36.81px;color:#fff;left:-558.97px;width:1712px;text-align:center;">量化指标</span>
<span class="t " style="top:1432.94px;line-height:85.6px;font-size:38.09px;color:#fff;left:-383.15px;width:1712px;text-align:center;">左</span>
<span class="t " style="top:1432.94px;line-height:85.6px;font-size:38.09px;color:#fff;left:-269.55px;width:1712px;text-align:center;">直</span>
<span class="t " style="top:1432.94px;line-height:85.6px;font-size:38.09px;color:#fff;left:-155.88px;width:1712px;text-align:center;">左</span>
<span class="t " style="top:1432.94px;line-height:85.6px;font-size:38.09px;color:#fff;left:-42.29px;width:1712px;text-align:center;">直</span>
<span class="t " style="top:1432.94px;line-height:85.6px;font-size:38.09px;color:#fff;left:71.39px;width:1712px;text-align:center;">左</span>
<span class="t " style="top:1432.94px;line-height:85.6px;font-size:38.09px;color:#fff;left:184.98px;width:1712px;text-align:center;">直</span>
<span class="t " style="top:1432.94px;line-height:85.6px;font-size:38.09px;color:#fff;left:298.66px;width:1712px;text-align:center;">左</span>
<span class="t " style="top:1432.94px;line-height:85.6px;font-size:38.09px;color:#fff;left:412.25px;width:1712px;text-align:center;">直</span>
<span class="t " style="top:1578.89px;line-height:85.6px;font-size:36.81px;color:#fff;left:-558.97px;width:1712px;text-align:center;">绿灯时间</span>
<span class="t " style="top:1578.89px;line-height:85.6px;font-size:38.09px;color:#fff;left:-383.15px;width:1712px;text-align:center;">100</span>
<span class="t " style="top:1578.89px;line-height:85.6px;font-size:38.09px;color:#fff;left:-269.55px;width:1712px;text-align:center;">50</span>
<span class="t " style="top:1578.89px;line-height:85.6px;font-size:38.09px;color:#fff;left:-155.88px;width:1712px;text-align:center;">90</span>
<span class="t " style="top:1578.89px;line-height:85.6px;font-size:38.09px;color:#fff;left:-42.29px;width:1712px;text-align:center;">60</span>
<span class="t " style="top:1578.89px;line-height:85.6px;font-size:38.09px;color:#fff;left:71.39px;width:1712px;text-align:center;">30</span>
<span class="t " style="top:1578.89px;line-height:85.6px;font-size:38.09px;color:#fff;left:184.98px;width:1712px;text-align:center;">90</span>
<span class="t " style="top:1578.89px;line-height:85.6px;font-size:38.09px;color:#fff;left:298.66px;width:1712px;text-align:center;">30</span>
<span class="t " style="top:1578.89px;line-height:85.6px;font-size:38.09px;color:#fff;left:412.25px;width:1712px;text-align:center;">50</span>
<span class="t " style="top:1704.72px;line-height:85.6px;font-size:36.81px;color:#fff;left:-558.97px;width:1712px;text-align:center;">转向平均</span>
<span class="t " style="top:1747.52px;line-height:85.6px;font-size:36.81px;color:#fff;left:-558.97px;width:1712px;text-align:center;">流量</span>
<span class="t " style="top:1725.27px;line-height:85.6px;font-size:38.09px;color:#fff;left:-383.15px;width:1712px;text-align:center;">100</span>
<span class="t " style="top:1725.27px;line-height:85.6px;font-size:38.09px;color:#fff;left:-269.55px;width:1712px;text-align:center;">50</span>
<span class="t " style="top:1725.27px;line-height:85.6px;font-size:38.09px;color:#fff;left:-155.88px;width:1712px;text-align:center;">90</span>
<span class="t " style="top:1725.27px;line-height:85.6px;font-size:38.09px;color:#fff;left:-42.29px;width:1712px;text-align:center;">60</span>
<span class="t " style="top:1725.27px;line-height:85.6px;font-size:38.09px;color:#fff;left:71.39px;width:1712px;text-align:center;">30</span>
<span class="t " style="top:1725.27px;line-height:85.6px;font-size:38.09px;color:#fff;left:184.98px;width:1712px;text-align:center;">90</span>
<span class="t " style="top:1725.27px;line-height:85.6px;font-size:38.09px;color:#fff;left:298.66px;width:1712px;text-align:center;">30</span>
<span class="t " style="top:1725.27px;line-height:85.6px;font-size:38.09px;color:#fff;left:412.25px;width:1712px;text-align:center;">50</span>
<span class="t " style="top:1869.93px;line-height:85.6px;font-size:36.81px;color:#fff;left:-558.97px;width:1712px;text-align:center;">通行能力</span>
<span class="t " style="top:1869.93px;line-height:85.6px;font-size:38.09px;color:#fff;left:-383.15px;width:1712px;text-align:center;">100</span>
<span class="t " style="top:1869.93px;line-height:85.6px;font-size:38.09px;color:#fff;left:-269.55px;width:1712px;text-align:center;">50</span>
<span class="t " style="top:1869.93px;line-height:85.6px;font-size:38.09px;color:#fff;left:-155.88px;width:1712px;text-align:center;">90</span>
<span class="t " style="top:1869.93px;line-height:85.6px;font-size:38.09px;color:#fff;left:-42.29px;width:1712px;text-align:center;">60</span>
<span class="t " style="top:1869.93px;line-height:85.6px;font-size:38.09px;color:#fff;left:71.39px;width:1712px;text-align:center;">30</span>
<span class="t " style="top:1869.93px;line-height:85.6px;font-size:38.09px;color:#fff;left:184.98px;width:1712px;text-align:center;">90</span>
<span class="t " style="top:1869.93px;line-height:85.6px;font-size:38.09px;color:#fff;left:298.66px;width:1712px;text-align:center;">30</span>
<span class="t " style="top:1869.93px;line-height:85.6px;font-size:38.09px;color:#fff;left:412.25px;width:1712px;text-align:center;">50</span>
<span class="t " style="top:2063.82px;line-height:85.6px;font-size:36.81px;color:#fff;left:-558.97px;width:1712px;text-align:center;">饱和度</span>
<span class="t " style="top:2015.88px;line-height:85.6px;font-size:38.09px;color:#d8102c;left:-383.15px;width:1712px;text-align:center;">0.9</span>
<span class="t " style="top:2015.88px;line-height:85.6px;font-size:38.09px;color:#fff;left:-269.55px;width:1712px;text-align:center;">0.2</span>
<span class="t " style="top:2015.88px;line-height:85.6px;font-size:38.09px;color:#d8102c;left:-155.88px;width:1712px;text-align:center;">0.85</span>
<span class="t " style="top:2015.88px;line-height:85.6px;font-size:38.09px;color:#fff;left:-42.29px;width:1712px;text-align:center;">0.6</span>
<span class="t " style="top:2015.88px;line-height:85.6px;font-size:38.09px;color:#fff;left:71.39px;width:1712px;text-align:center;">0.5</span>
<span class="t " style="top:2015.88px;line-height:85.6px;font-size:38.09px;color:#fff;left:184.98px;width:1712px;text-align:center;">0.34</span>
<span class="t " style="top:2015.88px;line-height:85.6px;font-size:38.09px;color:#fff;left:298.66px;width:1712px;text-align:center;">0.6</span>
<span class="t " style="top:2015.88px;line-height:85.6px;font-size:38.09px;color:#fff;left:412.25px;width:1712px;text-align:center;">0.4</span>
<span class="t " style="top:2137.43px;line-height:85.6px;font-size:38.09px;color:#d8102c;left:14.55px;width:1712px;text-align:center;">0.92</span>
<svg class="b" style="left:1501.42px;top:1222.37px;width:349.25px;height:295.32px" viewBox="0 0 408 345"><rect width="348" height="345" fill="#000"/><rect x="348" y="0" width="60" height="345" fill="#000"/><rect x="348" y="0" width="60" height="110" fill="#0b8a10"/><rect x="348" y="117" width="60" height="110" fill="#f6b400"/><rect x="348" y="234" width="60" height="111" fill="#f00000"/><g stroke="#1cdc22" stroke-width="11" stroke-linecap="round" fill="none"><path d="M172 64 L192 76 L228 82"/><path d="M90 182 L120 180 L146 170"/><path d="M170 160 L196 148 L228 146"/><path d="M92 250 L124 256 L146 272"/></g><g stroke="#b8c2c2" stroke-width="8" fill="none"><path d="M236 88 H264"/><path d="M58 152 H80"/><path d="M236 176 H258"/><path d="M52 238 H82"/></g><g font-family="Liberation Sans,sans-serif" font-size="36" fill="#fff" text-anchor="middle" opacity=".8"><text x="378" y="68">30</text><text x="378" y="185">3</text><text x="378" y="302">0</text></g></svg>
<span class="t " style="top:1507.42px;line-height:85.6px;font-size:35.95px;color:#e6ecf6;left:797.79px;width:1712px;text-align:center;">相位1</span>
<svg class="b" style="left:1878.92px;top:1222.37px;width:349.25px;height:295.32px" viewBox="0 0 408 345"><rect width="348" height="345" fill="#000"/><rect x="348" y="0" width="60" height="345" fill="#000"/><rect x="348" y="0" width="60" height="110" fill="#0b8a10"/><rect x="348" y="117" width="60" height="110" fill="#f6b400"/><rect x="348" y="234" width="60" height="111" fill="#f00000"/><g stroke="#1cdc22" stroke-width="11" stroke-linecap="round" fill="none"><path d="M172 64 L192 76 L228 82"/><path d="M90 182 L120 180 L146 170"/><path d="M170 160 L196 148 L228 146"/><path d="M92 250 L124 256 L146 272"/></g><g stroke="#b8c2c2" stroke-width="8" fill="none"><path d="M236 88 H264"/><path d="M58 152 H80"/><path d="M236 176 H258"/><path d="M52 238 H82"/></g><g font-family="Liberation Sans,sans-serif" font-size="36" fill="#fff" text-anchor="middle" opacity=".8"><text x="378" y="68">30</text><text x="378" y="185">3</text><text x="378" y="302">0</text></g></svg>
<span class="t " style="top:1507.42px;line-height:85.6px;font-size:35.95px;color:#e6ecf6;left:1175.29px;width:1712px;text-align:center;">相位2</span>
<svg class="b" style="left:2256.42px;top:1222.37px;width:349.25px;height:295.32px" viewBox="0 0 408 345"><rect width="348" height="345" fill="#000"/><rect x="348" y="0" width="60" height="345" fill="#000"/><rect x="348" y="0" width="60" height="110" fill="#0b8a10"/><rect x="348" y="117" width="60" height="110" fill="#f6b400"/><rect x="348" y="234" width="60" height="111" fill="#f00000"/><g stroke="#1cdc22" stroke-width="11" stroke-linecap="round" fill="none"><path d="M172 64 L192 76 L228 82"/><path d="M90 182 L120 180 L146 170"/><path d="M170 160 L196 148 L228 146"/><path d="M92 250 L124 256 L146 272"/></g><g stroke="#b8c2c2" stroke-width="8" fill="none"><path d="M236 88 H264"/><path d="M58 152 H80"/><path d="M236 176 H258"/><path d="M52 238 H82"/></g><g font-family="Liberation Sans,sans-serif" font-size="36" fill="#fff" text-anchor="middle" opacity=".8"><text x="378" y="68">30</text><text x="378" y="185">3</text><text x="378" y="302">0</text></g></svg>
<span class="t " style="top:1507.42px;line-height:85.6px;font-size:35.95px;color:#e6ecf6;left:1552.78px;width:1712px;text-align:center;">相位3</span>
<svg class="b" style="left:1501.42px;top:1579.32px;width:349.25px;height:295.32px" viewBox="0 0 408 345"><rect width="348" height="345" fill="#000"/><rect x="348" y="0" width="60" height="345" fill="#000"/><rect x="348" y="0" width="60" height="110" fill="#0b8a10"/><rect x="348" y="117" width="60" height="110" fill="#f6b400"/><rect x="348" y="234" width="60" height="111" fill="#f00000"/><g stroke="#1cdc22" stroke-width="11" stroke-linecap="round" fill="none"><path d="M172 64 L192 76 L228 82"/><path d="M90 182 L120 180 L146 170"/><path d="M170 160 L196 148 L228 146"/><path d="M92 250 L124 256 L146 272"/></g><g stroke="#b8c2c2" stroke-width="8" fill="none"><path d="M236 88 H264"/><path d="M58 152 H80"/><path d="M236 176 H258"/><path d="M52 238 H82"/></g><g font-family="Liberation Sans,sans-serif" font-size="36" fill="#fff" text-anchor="middle" opacity=".8"><text x="378" y="68">30</text><text x="378" y="185">3</text><text x="378" y="302">0</text></g></svg>
<span class="t " style="top:1864.37px;line-height:85.6px;font-size:35.95px;color:#e6ecf6;left:797.79px;width:1712px;text-align:center;">相位4</span>
<div class="b" style="left:1871.22px;top:1571.62px;width:311.58px;height:309.87px;background:#17aacc;"></div>
<svg class="b" style="left:1878.92px;top:1579.32px;width:349.25px;height:295.32px" viewBox="0 0 408 345"><rect width="348" height="345" fill="#000"/><rect x="348" y="0" width="60" height="345" fill="#000"/><rect x="348" y="0" width="60" height="110" fill="#0b8a10"/><rect x="348" y="117" width="60" height="110" fill="#f6b400"/><rect x="348" y="234" width="60" height="111" fill="#f00000"/><g stroke="#1cdc22" stroke-width="11" stroke-linecap="round" fill="none"><path d="M172 64 L192 76 L228 82"/><path d="M90 182 L120 180 L146 170"/><path d="M170 160 L196 148 L228 146"/><path d="M92 250 L124 256 L146 272"/></g><g stroke="#b8c2c2" stroke-width="8" fill="none"><path d="M236 88 H264"/><path d="M58 152 H80"/><path d="M236 176 H258"/><path d="M52 238 H82"/></g><g font-family="Liberation Sans,sans-serif" font-size="36" fill="#fff" text-anchor="middle" opacity=".8"><text x="378" y="68">30</text><text x="378" y="185">3</text><text x="378" y="302">0</text></g></svg>
<span class="t " style="top:1864.37px;line-height:85.6px;font-size:35.95px;color:#e6ecf6;left:1175.29px;width:1712px;text-align:center;">相位5</span>
<svg class="b" style="left:2256.42px;top:1579.32px;width:349.25px;height:295.32px" viewBox="0 0 408 345"><rect width="348" height="345" fill="#000"/><rect x="348" y="0" width="60" height="345" fill="#000"/><rect x="348" y="0" width="60" height="110" fill="#0b8a10"/><rect x="348" y="117" width="60" height="110" fill="#f6b400"/><rect x="348" y="234" width="60" height="111" fill="#f00000"/><g stroke="#1cdc22" stroke-width="11" stroke-linecap="round" fill="none"><path d="M172 64 L192 76 L228 82"/><path d="M90 182 L120 180 L146 170"/><path d="M170 160 L196 148 L228 146"/><path d="M92 250 L124 256 L146 272"/></g><g stroke="#b8c2c2" stroke-width="8" fill="none"><path d="M236 88 H264"/><path d="M58 152 H80"/><path d="M236 176 H258"/><path d="M52 238 H82"/></g><g font-family="Liberation Sans,sans-serif" font-size="36" fill="#fff" text-anchor="middle" opacity=".8"><text x="378" y="68">30</text><text x="378" y="185">3</text><text x="378" y="302">0</text></g></svg>
<span class="t " style="top:1864.37px;line-height:85.6px;font-size:35.95px;color:#e6ecf6;left:1552.78px;width:1712px;text-align:center;">相位6</span>
<svg class="b" style="left:1501.42px;top:1936.27px;width:349.25px;height:295.32px" viewBox="0 0 408 345"><rect width="348" height="345" fill="#000"/><rect x="348" y="0" width="60" height="345" fill="#000"/><rect x="348" y="0" width="60" height="110" fill="#0b8a10"/><rect x="348" y="117" width="60" height="110" fill="#f6b400"/><rect x="348" y="234" width="60" height="111" fill="#f00000"/><g stroke="#1cdc22" stroke-width="11" stroke-linecap="round" fill="none"><path d="M172 64 L192 76 L228 82"/><path d="M90 182 L120 180 L146 170"/><path d="M170 160 L196 148 L228 146"/><path d="M92 250 L124 256 L146 272"/></g><g stroke="#b8c2c2" stroke-width="8" fill="none"><path d="M236 88 H264"/><path d="M58 152 H80"/><path d="M236 176 H258"/><path d="M52 238 H82"/></g><g font-family="Liberation Sans,sans-serif" font-size="36" fill="#fff" text-anchor="middle" opacity=".8"><text x="378" y="68">30</text><text x="378" y="185">3</text><text x="378" y="302">0</text></g></svg>
<span class="t " style="top:2221.32px;line-height:85.6px;font-size:35.95px;color:#e6ecf6;left:797.79px;width:1712px;text-align:center;">相位7</span>
<svg class="b" style="left:1878.92px;top:1936.27px;width:349.25px;height:295.32px" viewBox="0 0 408 345"><rect width="348" height="345" fill="#000"/><rect x="348" y="0" width="60" height="345" fill="#000"/><rect x="348" y="0" width="60" height="110" fill="#0b8a10"/><rect x="348" y="117" width="60" height="110" fill="#f6b400"/><rect x="348" y="234" width="60" height="111" fill="#f00000"/><g stroke="#1cdc22" stroke-width="11" stroke-linecap="round" fill="none"><path d="M172 64 L192 76 L228 82"/><path d="M90 182 L120 180 L146 170"/><path d="M170 160 L196 148 L228 146"/><path d="M92 250 L124 256 L146 272"/></g><g stroke="#b8c2c2" stroke-width="8" fill="none"><path d="M236 88 H264"/><path d="M58 152 H80"/><path d="M236 176 H258"/><path d="M52 238 H82"/></g><g font-family="Liberation Sans,sans-serif" font-size="36" fill="#fff" text-anchor="middle" opacity=".8"><text x="378" y="68">30</text><text x="378" y="185">3</text><text x="378" y="302">0</text></g></svg>
<span class="t " style="top:2221.32px;line-height:85.6px;font-size:35.95px;color:#e6ecf6;left:1175.29px;width:1712px;text-align:center;">相位8</span>
<svg class="b" style="left:2256.42px;top:1936.27px;width:349.25px;height:295.32px" viewBox="0 0 408 345"><rect width="348" height="345" fill="#000"/><rect x="348" y="0" width="60" height="345" fill="#000"/><rect x="348" y="0" width="60" height="110" fill="#0b8a10"/><rect x="348" y="117" width="60" height="110" fill="#f6b400"/><rect x="348" y="234" width="60" height="111" fill="#f00000"/><g stroke="#1cdc22" stroke-width="11" stroke-linecap="round" fill="none"><path d="M172 64 L192 76 L228 82"/><path d="M90 182 L120 180 L146 170"/><path d="M170 160 L196 148 L228 146"/><path d="M92 250 L124 256 L146 272"/></g><g stroke="#b8c2c2" stroke-width="8" fill="none"><path d="M236 88 H264"/><path d="M58 152 H80"/><path d="M236 176 H258"/><path d="M52 238 H82"/></g><g font-family="Liberation Sans,sans-serif" font-size="36" fill="#fff" text-anchor="middle" opacity=".8"><text x="378" y="68">30</text><text x="378" y="185">3</text><text x="378" y="302">0</text></g></svg>
<span class="t " style="top:2221.32px;line-height:85.6px;font-size:35.95px;color:#e6ecf6;left:1552.78px;width:1712px;text-align:center;">相位9</span>
<svg class="b" style="left:2730.04px;top:1092px;width:1770.04px;height:1223.99px" viewBox="783 390.2 177 122.40000000000003" font-family='Liberation Sans,Noto Sans CJK SC,sans-serif'><text x="791" y="407.3" font-size="4.15" fill="#a8b8d2">平均流量pcu/h</text><text x="799.7" y="497.00" font-size="4.05" fill="#a8b8d2" text-anchor="end">0</text><path d="M803.1 483.03 H940" stroke="#1d4888" stroke-width="0.3" opacity=".5"/><text x="799.7" y="484.43" font-size="4.05" fill="#a8b8d2" text-anchor="end">500</text><path d="M803.1 470.46 H940" stroke="#1d4888" stroke-width="0.3" opacity=".5"/><text x="799.7" y="471.86" font-size="4.05" fill="#a8b8d2" text-anchor="end">1000</text><path d="M803.1 457.89 H940" stroke="#1d4888" stroke-width="0.3" opacity=".5"/><text x="799.7" y="459.29" font-size="4.05" fill="#a8b8d2" text-anchor="end">1500</text><path d="M803.1 445.32 H940" stroke="#1d4888" stroke-width="0.3" opacity=".5"/><text x="799.7" y="446.72" font-size="4.05" fill="#a8b8d2" text-anchor="end">2000</text><path d="M803.1 432.75 H940" stroke="#1d4888" stroke-width="0.3" opacity=".5"/><text x="799.7" y="434.15" font-size="4.05" fill="#a8b8d2" text-anchor="end">2500</text><path d="M803.1 420.18 H940" stroke="#1d4888" stroke-width="0.3" opacity=".5"/><text x="799.7" y="421.58" font-size="4.05" fill="#a8b8d2" text-anchor="end">3000</text><path d="M803.1 413.2 V495.6 H942" fill="none" stroke="#46689c" stroke-width="0.4"/><path d="M941.2 494.70000000000005 L943 495.6 L941.2 496.5 Z" fill="#5678a8"/><text x="944.5" y="497.0" font-size="4.0" fill="#a8b8d2">方向</text><rect x="812.5" y="438.9" width="7.60" height="56.70" fill="#00ffff"/><rect x="820.7" y="444.9" width="7.30" height="50.70" fill="#00ffff"/><rect x="845.9" y="456.8" width="7.60" height="38.80" fill="#fb4f86"/><rect x="854.1" y="452.3" width="7.40" height="43.30" fill="#fb4f86"/><rect x="879.9" y="427.0" width="7.40" height="68.60" fill="#84fc7c"/><rect x="887.8" y="462.2" width="7.40" height="33.40" fill="#84fc7c"/><rect x="914.2" y="448.9" width="7.40" height="46.70" fill="#6ea6fc"/><rect x="922.1" y="440.9" width="7.40" height="54.70" fill="#6ea6fc"/><text x="820.3" y="503.8" font-size="4.0" fill="#a8b8d2" text-anchor="middle">东进/左</text><text x="853.7" y="503.8" font-size="4.0" fill="#a8b8d2" text-anchor="middle">西进/左</text><text x="887.6" y="503.8" font-size="4.0" fill="#a8b8d2" text-anchor="middle">南进/左</text><text x="921.9" y="503.8" font-size="4.0" fill="#a8b8d2" text-anchor="middle">北进/左</text></svg>
<div class="b" style="left:2033.86px;top:2389.95px;width:262.79px;height:81.32px;background:#4a94fb;border-radius:8.56px;box-shadow:0 2.57px 10.27px rgba(0,8,40,.7);"></div>
<span class="t " style="top:2397.66px;line-height:85.6px;font-size:40.23px;color:#fff;left:1309.25px;width:1712px;text-align:center;">上一步</span>
<div class="b" style="left:2342.02px;top:2389.95px;width:262.79px;height:81.32px;background:#4a94fb;border-radius:8.56px;box-shadow:0 2.57px 10.27px rgba(0,8,40,.7);"></div>
<span class="t " style="top:2397.66px;line-height:85.6px;font-size:40.23px;color:#fff;left:1617.41px;width:1712px;text-align:center;">下一步</span>
</div></div>
</div>
</body></html>
